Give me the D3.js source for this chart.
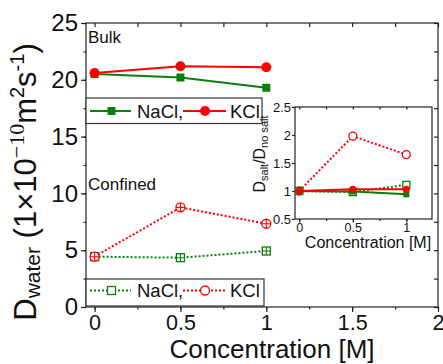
<!DOCTYPE html>
<html><head><meta charset="utf-8">
<script src="https://cdn.jsdelivr.net/npm/d3@7"></script>
<style>
body{margin:0;background:#fff;}
svg{display:block;font-family:"Liberation Sans",Arial,sans-serif;}
.domain{display:none;}
</style></head><body>
<svg id="c" width="443" height="364"></svg>
<script>
// ---- data ----
const conc = [0, 0.5, 1];
const bulkNaCl = [20.5, 20.2, 19.3];
const bulkKCl = [20.6, 21.2, 21.1];
const confNaCl = [4.43, 4.34, 4.93];
const confKCl = [4.43, 8.77, 7.33];
const ratioBulkNaCl = [1.0, 0.99, 0.94];
const ratioBulkKCl = [1.0, 1.03, 1.03];
const ratioConfNaCl = [1.0, 0.98, 1.11];
const ratioConfKCl = [1.0, 1.98, 1.65];
const xTicksMain = [0, 0.5, 1, 1.5, 2];
const yTicksMain = [0, 5, 10, 15, 20, 25];
const xTicksInset = [0, 0.5, 1];
const yTicksInset = [0.5, 1, 1.5, 2, 2.5];
const GREEN = "#0a7d0a", RED = "#ff0000";

const svg = d3.select("#c");
const x = d3.scaleLinear().domain([-0.05, 2]).range([86, 438]);
const y = d3.scaleLinear().domain([0, 25]).range([307, 23]);

// frame
svg.append("rect").attr("x",86).attr("y",23).attr("width",352).attr("height",284)
  .attr("fill","none").attr("stroke","#222").attr("stroke-width",1.2);

function styleAxis(g, fs){
  g.selectAll("line").attr("stroke","#222").attr("stroke-width",1.2);
  g.selectAll("text").attr("fill","#111").style("font-size",fs+"px")
    .style("font-family","'Liberation Sans',Arial,sans-serif");
}
// main axes
const minorX = d3.range(0,2.01,0.25);
const minorY = d3.range(0,25.1,2.5);
svg.append("g").attr("transform","translate(0,307)")
  .call(d3.axisBottom(x).tickValues(minorX).tickSize(2.5).tickFormat(""))
  .call(g=>styleAxis(g,23));
svg.append("g").attr("transform","translate(0,307)")
  .call(d3.axisBottom(x).tickValues(xTicksMain).tickSize(5).tickPadding(3).tickFormat(d3.format("")))
  .call(g=>styleAxis(g,21.5));
svg.append("g").attr("transform","translate(0,23)")
  .call(d3.axisBottom(x).tickValues(minorX).tickSize(4).tickFormat(""))
  .call(g=>styleAxis(g,23));
svg.append("g").attr("transform","translate(86,0)")
  .call(d3.axisLeft(y).tickValues(minorY).tickSize(2.5).tickFormat(""))
  .call(g=>styleAxis(g,23));
svg.append("g").attr("transform","translate(86,0)")
  .call(d3.axisLeft(y).tickValues(yTicksMain).tickSize(5).tickPadding(3).tickFormat(d3.format("")))
  .call(g=>styleAxis(g,24));
svg.append("g").attr("transform","translate(438,0)")
  .call(d3.axisLeft(y).tickValues(minorY).tickSize(4).tickFormat(""))
  .call(g=>styleAxis(g,23));

// axis titles
svg.append("text").attr("x",272).attr("y",358).attr("text-anchor","middle")
  .style("font-size","26px").attr("fill","#111").text("Concentration [M]");
const yl = svg.append("text").attr("transform","translate(36,182) rotate(-90)")
  .attr("text-anchor","middle").attr("fill","#111").style("font-size","31px");
yl.append("tspan").text("D");
yl.append("tspan").style("font-size","21px").attr("dy",4).text("water");
yl.append("tspan").attr("dy",-4).text("\u00a0(1\u00d710");
yl.append("tspan").style("font-size","22px").style("font-family","'Liberation Serif','Times New Roman',serif").attr("dy",-12).text("\u221210");
yl.append("tspan").attr("dy",12).text("m");
yl.append("tspan").style("font-size","20px").attr("dy",-12).text("2");
yl.append("tspan").attr("dy",12).text("s");
yl.append("tspan").style("font-size","20px").attr("dy",-12).text("-1");
yl.append("tspan").attr("dy",12).text(")");

// labels
svg.append("text").attr("x",88).attr("y",43).style("font-size","17px").attr("fill","#111").text("Bulk");
svg.append("text").attr("x",88).attr("y",190).style("font-size","17px").attr("fill","#111").text("Confined");

// series
function series(g, xs, ys, vals, color, dashed, marker, sz){
  const pts = conc.map((c,i)=>[xs(c), ys(vals[i])]);
  g.append("path").attr("d", d3.line()(pts)).attr("fill","none").attr("stroke",color)
    .attr("stroke-width",2).attr("stroke-dasharray", dashed ? "2,2" : null);
  pts.forEach(p=>drawMarker(g,p[0],p[1],color,marker,sz));
}
function drawMarker(g,cx,cy,color,marker,sz){
  const h = sz/2;
  if(marker==="fsq"){
    g.append("rect").attr("x",cx-h).attr("y",cy-h).attr("width",sz).attr("height",sz).attr("fill",color);
  } else if(marker==="fci"){
    g.append("circle").attr("cx",cx).attr("cy",cy).attr("r",h).attr("fill",color);
  } else if(marker==="osq" || marker==="osqx"){
    g.append("rect").attr("x",cx-h).attr("y",cy-h).attr("width",sz).attr("height",sz).attr("fill","#fff").attr("stroke",color).attr("stroke-width",1.3);
    if(marker==="osqx"){
      g.append("path").attr("d",`M${cx-h},${cy}H${cx+h}M${cx},${cy-h}V${cy+h}`).attr("stroke",color).attr("stroke-width",1.1);
    }
  } else if(marker==="oci" || marker==="ocix"){
    g.append("circle").attr("cx",cx).attr("cy",cy).attr("r",h).attr("fill","#fff").attr("stroke",color).attr("stroke-width",1.3);
    if(marker==="ocix"){
      g.append("path").attr("d",`M${cx-h},${cy}H${cx+h}M${cx},${cy-h}V${cy+h}`).attr("stroke",color).attr("stroke-width",1.1);
    }
  }
}
const gm = svg.append("g");
series(gm, x, y, bulkNaCl, GREEN, false, "fsq", 8);
series(gm, x, y, bulkKCl, RED, false, "fci", 10);
series(gm, x, y, confNaCl, GREEN, true, "osqx", 8);
series(gm, x, y, confKCl, RED, true, "ocix", 9);

// legends
function legend(y0, y1, cy, x1, dashed, mN, mK){
  const g = svg.append("g");
  g.append("rect").attr("x",86).attr("y",y0).attr("width",x1-86).attr("height",y1-y0)
    .attr("fill","#fff").attr("stroke","#333").attr("stroke-width",1.2);
  g.append("line").attr("x1",90).attr("x2",131).attr("y1",cy).attr("y2",cy).attr("stroke",GREEN).attr("stroke-width",2).attr("stroke-dasharray",dashed?"2,2":null);
  drawMarker(g,111.5,cy,GREEN,mN,8);
  g.append("text").attr("x",137).attr("y",cy+6.5).style("font-size","18.5px").attr("fill","#111").text("NaCl,");
  g.append("line").attr("x1",183).attr("x2",226).attr("y1",cy).attr("y2",cy).attr("stroke",RED).attr("stroke-width",2).attr("stroke-dasharray",dashed?"2,2":null);
  drawMarker(g,205,cy,RED,mK,mK==="fci"?10:9);
  g.append("text").attr("x",230).attr("y",cy+6.5).style("font-size","18.5px").attr("fill","#111").text("KCl");
}
legend(98, 123.5, 111, 262, false, "fsq", "fci");
legend(279, 306, 290.5, 264, true, "osq", "oci");

// inset
const xi = d3.scaleLinear().domain([-0.04, 1.24]).range([295, 432]);
const yi = d3.scaleLinear().domain([0.5, 2.5]).range([219, 107]);
svg.append("rect").attr("x",295).attr("y",107).attr("width",137).attr("height",112)
  .attr("fill","#fff").attr("stroke","#222").attr("stroke-width",1.2);
svg.append("g").attr("transform","translate(0,219)")
  .call(d3.axisBottom(xi).tickValues(d3.range(0,1.01,0.25)).tickSize(2).tickFormat(""))
  .call(g=>styleAxis(g,13));
svg.append("g").attr("transform","translate(0,219)")
  .call(d3.axisBottom(xi).tickValues(xTicksInset).tickSize(3.5).tickPadding(0.5).tickFormat(d3.format("")))
  .call(g=>styleAxis(g,12.5));
svg.append("g").attr("transform","translate(0,107)")
  .call(d3.axisBottom(xi).tickValues(d3.range(0,1.01,0.25)).tickSize(2.5).tickFormat(""))
  .call(g=>styleAxis(g,13));
svg.append("g").attr("transform","translate(295,0)")
  .call(d3.axisLeft(yi).tickValues(yTicksInset).tickSize(3).tickPadding(1).tickFormat(d3.format("")))
  .call(g=>styleAxis(g,13));
svg.append("text").attr("x",368).attr("y",248).attr("text-anchor","middle")
  .style("font-size","16px").attr("fill","#111").text("Concentration [M]");
const yl2 = svg.append("text").attr("transform","translate(265,154) rotate(-90)")
  .attr("text-anchor","middle").attr("fill","#111").style("font-size","16px");
yl2.append("tspan").text("D");
yl2.append("tspan").style("font-size","11px").attr("dy",3).text("salt");
yl2.append("tspan").attr("dy",-3).text("/D");
yl2.append("tspan").style("font-size","11px").attr("dy",3).text("no salt");

const gi = svg.append("g");
series(gi, xi, yi, ratioConfKCl, RED, true, "oci", 8);
series(gi, xi, yi, ratioConfNaCl, GREEN, true, "osq", 7);
series(gi, xi, yi, ratioBulkNaCl, GREEN, false, "fsq", 6);
series(gi, xi, yi, ratioBulkKCl, RED, false, "fci", 7);
</script></body></html>
